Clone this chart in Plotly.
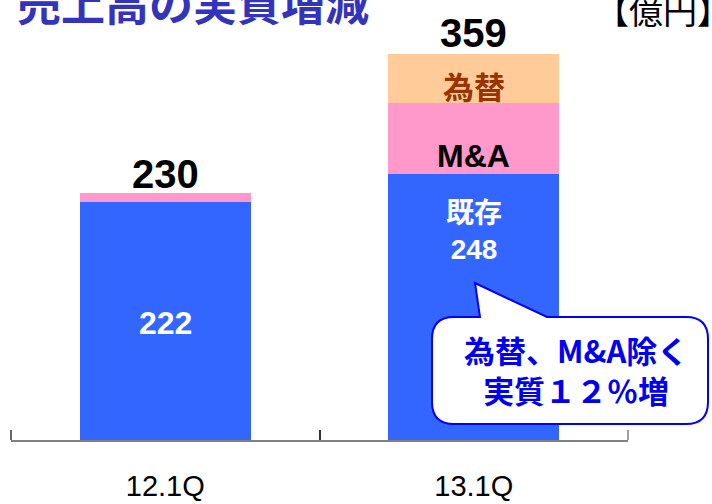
import plotly.graph_objects as go

categories = ["12.1Q", "13.1Q"]
existing = [222, 248]
mna = [8, 66]
fx = [0, 45]
totals = [230, 359]

W, H = 712, 504
PL, PR, PT, PB = 11, 628, 30, 440
PX_PER_UNIT = 1.074
YMAX = (PB - PT) / PX_PER_UNIT

def px(x):
    return (x - PL) / (PR - PL)

def py(y):
    return (PB - y) / (PB - PT)

BLUE = "#3366FF"
PINK = "#FF99CC"
ORANGE = "#FFCC99"
LATIN = "Liberation Sans, Noto Sans CJK JP"
CJK = "Noto Sans CJK JP, Liberation Sans"

fig = go.Figure()
fig.add_bar(x=categories, y=existing, marker_color=BLUE, marker_line_width=0, name="既存")
fig.add_bar(x=categories, y=mna, marker_color=PINK, marker_line_width=0, name="M&A")
fig.add_bar(x=categories, y=fx, marker_color=ORANGE, marker_line_width=0, name="為替")

ann = []
# totals
for c, t, s in zip(categories, totals, [19, 21]):
    ann.append(dict(x=c, y=t, xref="x", yref="y", text=f"<b>{t}</b>", showarrow=False,
                    yanchor="middle", yshift=s, font=dict(family=LATIN, size=40, color="black")))
# inside labels
ann.append(dict(x=categories[0], y=existing[0] / 2, xref="x", yref="y", text=f"<b>{existing[0]}</b>",
                showarrow=False, yanchor="middle", yshift=-2, font=dict(family=LATIN, size=32, color="white")))
ann.append(dict(x=categories[1], y=existing[1], xref="x", yref="y",
                text=f"<b>既存<br>{existing[1]}</b>",
                showarrow=False, yanchor="middle", yshift=-58, font=dict(family=LATIN, size=28, color="white")))
ann.append(dict(x=categories[1], y=existing[1], xref="x", yref="y", text="<b>M&A</b>",
                showarrow=False, yanchor="middle", yshift=18, font=dict(family=LATIN, size=32, color="black")))
ann.append(dict(x=categories[1], y=existing[1] + mna[1], xref="x", yref="y", text="<b>為替</b>",
                showarrow=False, yanchor="middle", yshift=17, font=dict(family=CJK, size=31, color="#993300")))
# title and unit
ann.append(dict(x=px(15), y=py(2), xref="paper", yref="paper", text="<b>売上高の実質増減</b>",
                showarrow=False, xanchor="left", yanchor="middle",
                font=dict(family=CJK, size=44, color="#3333BB")))
ann.append(dict(x=px(593), y=py(10), xref="paper", yref="paper", text="【億円】",
                showarrow=False, xanchor="left", yanchor="middle",
                font=dict(family=CJK, size=34, color="black")))
# callout text
ann.append(dict(x=px(576), y=py(369), xref="paper", yref="paper",
                text="<b>為替、M&A除く</b><br><b>実質１２％増</b>",
                showarrow=False, xanchor="center", yanchor="middle",
                font=dict(family=CJK, size=31, color="#0000EE")))

# callout bubble path (pixel -> paper)
L, R, T, B, r = 432, 708, 317, 424, 22
tip = (475, 283)
bl, br = 480, 547
def P(x, y):
    return f"{px(x):.5f},{py(y):.5f}"
path = (f"M {P(L + r, T)} L {P(bl, T)} L {P(*tip)} L {P(br, T)} L {P(R - r, T)} "
        f"Q {P(R, T)} {P(R, T + r)} L {P(R, B - r)} Q {P(R, B)} {P(R - r, B)} "
        f"L {P(L + r, B)} Q {P(L, B)} {P(L, B - r)} L {P(L, T + r)} Q {P(L, T)} {P(L + r, T)} Z")

shapes = [dict(type="path", path=path, xref="paper", yref="paper",
               fillcolor="white", line=dict(color="#0000FF", width=2), layer="above")]
# end ticks of category axis
for xe, col in [(0, "#333333"), (1, "#808080")]:
    shapes.append(dict(type="line", xref="paper", yref="paper", x0=xe, x1=xe,
                       y0=0, y1=10 / (PB - PT), line=dict(color=col, width=1.5)))

fig.update_layout(
    width=W, height=H,
    margin=dict(l=PL, r=W - PR, t=PT, b=H - PB, autoexpand=False),
    barmode="stack", bargap=0.446,
    showlegend=False,
    plot_bgcolor="white", paper_bgcolor="white",
    annotations=ann,
    shapes=shapes,
)
fig.update_xaxes(
    type="category", range=[-0.5, 1.5], automargin=False,
    showline=True, linecolor="#808080", linewidth=2,
    tickson="boundaries", ticks="inside", ticklen=10, tickwidth=1.5, tickcolor="#333333",
    ticklabelstandoff=19,
    tickfont=dict(family=LATIN, size=29, color="black"), showgrid=False,
)
fig.update_yaxes(range=[0, YMAX], visible=False, showgrid=False, automargin=False)

fig.write_html("out.html", config={"displayModeBar": False},
               post_script="document.body.style.margin='0';")
